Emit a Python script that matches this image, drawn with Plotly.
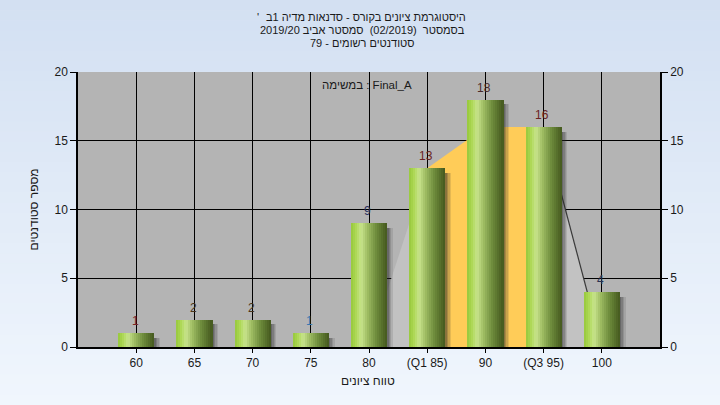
import plotly.graph_objects as go

# ---- data ----
categories = ["60", "65", "70", "75", "80", "(Q1 85)", "90", "(Q3 95)", "100"]
counts = [1, 2, 2, 1, 9, 13, 18, 16, 4]
label_colors = ["#7a2626", "#4a3418", "#4a3418", "#3a78b0", "#2a3060",
                "#6a2222", "#4a2a2a", "#6a2222", "#2a3050"]
area_idx = [4, 5, 6, 7, 8]
area_vals = [0, 13, 16, 16, 0]
y_ticks = [0, 5, 10, 15, 20]
title_line1 = "היסטוגרמת ציונים בקורס - סדנאות מדיה 1ב"
title_mark = "'"
title_lines = ["בסמסטר  (02/2019)  סמסטר אביב 2019/20",
               "סטודנטים רשומים - 79"]
task_label = "במשימה : Final_A"
x_title = "טווח ציונים"
y_title = "מספר סטודנטים"

W, H = 720, 405
L, R, T, B = 78, 60, 72, 58
pw, ph = W - L - R, H - T - B
FONT = "Liberation Sans"

xs = list(range(len(categories)))
fig = go.Figure()

# shadows
bw = 0.62
shadow_alphas = [0.55, 0.4, 0.25, 0.12]
sw = 0.1 / len(shadow_alphas)
for i, a in enumerate(shadow_alphas):
    fig.add_trace(go.Bar(x=xs, y=[c - 0.35 for c in counts], width=sw,
                         offset=bw / 2 + i * sw, marker=dict(color=f"rgba(40,40,40,{a})", line=dict(width=0)),
                         hoverinfo="skip", showlegend=False))

# bar gradient slices
stops = [(0.0, (150, 200, 60)), (0.12, (170, 214, 80)), (0.28, (200, 228, 140)),
         (0.45, (160, 190, 100)), (0.7, (110, 140, 60)), (1.0, (68, 88, 30))]

def col(t):
    for (t0, c0), (t1, c1) in zip(stops[:-1], stops[1:]):
        if t0 <= t <= t1:
            f = (t - t0) / (t1 - t0)
            return "rgb(%d,%d,%d)" % tuple(round(c0[k] + (c1[k] - c0[k]) * f) for k in range(3))
    return "rgb(68,88,30)"

N = 18
slw = bw / N
for i in range(N):
    fig.add_trace(go.Bar(x=xs, y=counts, width=slw * 1.05, offset=-bw / 2 + i * slw,
                         marker=dict(color=col((i + 0.5) / N), line=dict(width=0)),
                         hoverinfo="skip", showlegend=False))

# right axis anchor trace
fig.add_trace(go.Scatter(x=[0], y=[0], yaxis="y2", mode="markers", marker=dict(opacity=0),
                         hoverinfo="skip", showlegend=False))

# background gradient
shapes = []
n = 40
x0p, x1p = -L / pw, 1 + R / pw
y0p, y1p = -B / ph, 1 + T / ph
top_c, bot_c = (211, 224, 242), (240, 246, 253)
for i in range(n):
    f = i / (n - 1)
    c = tuple(round(top_c[k] + (bot_c[k] - top_c[k]) * f) for k in range(3))
    ya = y1p - (y1p - y0p) * i / n
    yb = y1p - (y1p - y0p) * (i + 1) / n
    shapes.append(dict(type="rect", xref="paper", yref="paper", x0=x0p, x1=x1p, y0=yb - 0.002, y1=ya,
                       fillcolor="rgb(%d,%d,%d)" % c, line=dict(width=0), layer="below"))
shapes.append(dict(type="rect", xref="paper", yref="paper", x0=0, x1=1, y0=0, y1=1,
                   fillcolor="#b4b4b4", line=dict(width=0), layer="below"))

# area series (drawn above grid, below bars)
def area_path(ix, iv):
    pts = " L ".join(f"{x},{v}" for x, v in zip(ix, iv))
    return f"M {ix[0]},0 L {pts} L {ix[-1]},0 Z"

shapes.append(dict(type="path", xref="x", yref="y", path=area_path(area_idx[0:2], area_vals[0:2]),
                   fillcolor="#c2c2c2", line=dict(width=0), layer="between"))
shapes.append(dict(type="path", xref="x", yref="y", path=area_path(area_idx[1:4], area_vals[1:4]),
                   fillcolor="#ffcc58", line=dict(width=0), layer="between"))
shapes.append(dict(type="path", xref="x", yref="y", path=area_path(area_idx[3:5], area_vals[3:5]),
                   fillcolor="#c2c2c2", line=dict(width=0), layer="between"))
shapes.append(dict(type="line", xref="x", yref="y", x0=area_idx[3], y0=area_vals[3],
                   x1=area_idx[4], y1=area_vals[4], line=dict(width=1.2, color="#3a3a3a"),
                   layer="between"))

tfont = dict(family=FONT, size=11, color="#1a1a1a")
annotations = []
annotations.append(dict(text=title_line1, xref="paper", yref="paper", x=(468 - L) / pw,
                        y=1 + (T - 17) / ph, xanchor="right", yanchor="middle",
                        showarrow=False, font=tfont))
annotations.append(dict(text=title_mark, xref="paper", yref="paper", x=(255 - L) / pw,
                        y=1 + (T - 17) / ph, xanchor="left", yanchor="middle",
                        showarrow=False, font=tfont))
for k, line in enumerate(title_lines):
    annotations.append(dict(text=line, xref="paper", yref="paper", x=(362 - L) / pw,
                            y=1 + (T - (30 + 13 * k)) / ph, xanchor="center", yanchor="middle",
                            showarrow=False, font=tfont))
annotations.append(dict(text=task_label, xref="paper", yref="paper", x=(367 - L) / pw,
                        y=1 - (85 - T) / ph, xanchor="center", yanchor="middle", showarrow=False,
                        font=dict(family=FONT, size=11.5, color="#1a1a1a")))
annotations.append(dict(text=x_title, xref="paper", yref="paper", x=(368 - L) / pw,
                        y=-(381 - T - ph) / ph, xanchor="center", yanchor="middle", showarrow=False,
                        font=dict(family=FONT, size=12, color="#1a1a1a")))
annotations.append(dict(text=y_title, xref="paper", yref="paper", x=-(L - 33) / pw,
                        y=0.5, xanchor="center", yanchor="middle", textangle=-90, showarrow=False,
                        font=dict(family=FONT, size=12, color="#1a1a1a")))
# value labels
for i, c in enumerate(counts):
    annotations.append(dict(text=str(c), xref="x", yref="y", x=i - 0.02, y=c, yshift=12,
                            xanchor="center", yanchor="middle", showarrow=False,
                            font=dict(family=FONT, size=12, color=label_colors[i])))

axis_font = dict(family=FONT, size=12, color="#1a1a1a")
fig.update_layout(
    width=W, height=H, margin=dict(l=L, r=R, t=T, b=B),
    paper_bgcolor="#e0e9f6", plot_bgcolor="rgba(0,0,0,0)",
    barmode="overlay", bargap=0, showlegend=False,
    shapes=shapes, annotations=annotations,
    xaxis=dict(range=[-1, len(categories)], tickmode="array", tickvals=xs, ticktext=categories,
               showgrid=True, gridcolor="#000000", gridwidth=1, zeroline=False,
               showline=True, linecolor="#000000", linewidth=1.5, ticks="outside", ticklen=4,
               tickcolor="#000000", tickfont=axis_font, fixedrange=True),
    yaxis=dict(range=[0, 20], tickmode="array", tickvals=y_ticks, showgrid=True,
               gridcolor="#000000", gridwidth=1, zeroline=False, showline=True,
               linecolor="#000000", linewidth=1.5, ticks="outside", ticklen=6,
               tickcolor="#000000", tickfont=axis_font, fixedrange=True),
    yaxis2=dict(range=[0, 20], tickmode="array", tickvals=y_ticks, overlaying="y", side="right",
                showgrid=False, zeroline=False, showline=True, linecolor="#000000", linewidth=1.5,
                ticks="outside", ticklen=6, tickcolor="#000000", tickfont=axis_font, fixedrange=True),
)

fig.write_html("out.html", config={"displayModeBar": False},
               post_script="document.body.style.margin='0';document.body.style.overflow='hidden';")
